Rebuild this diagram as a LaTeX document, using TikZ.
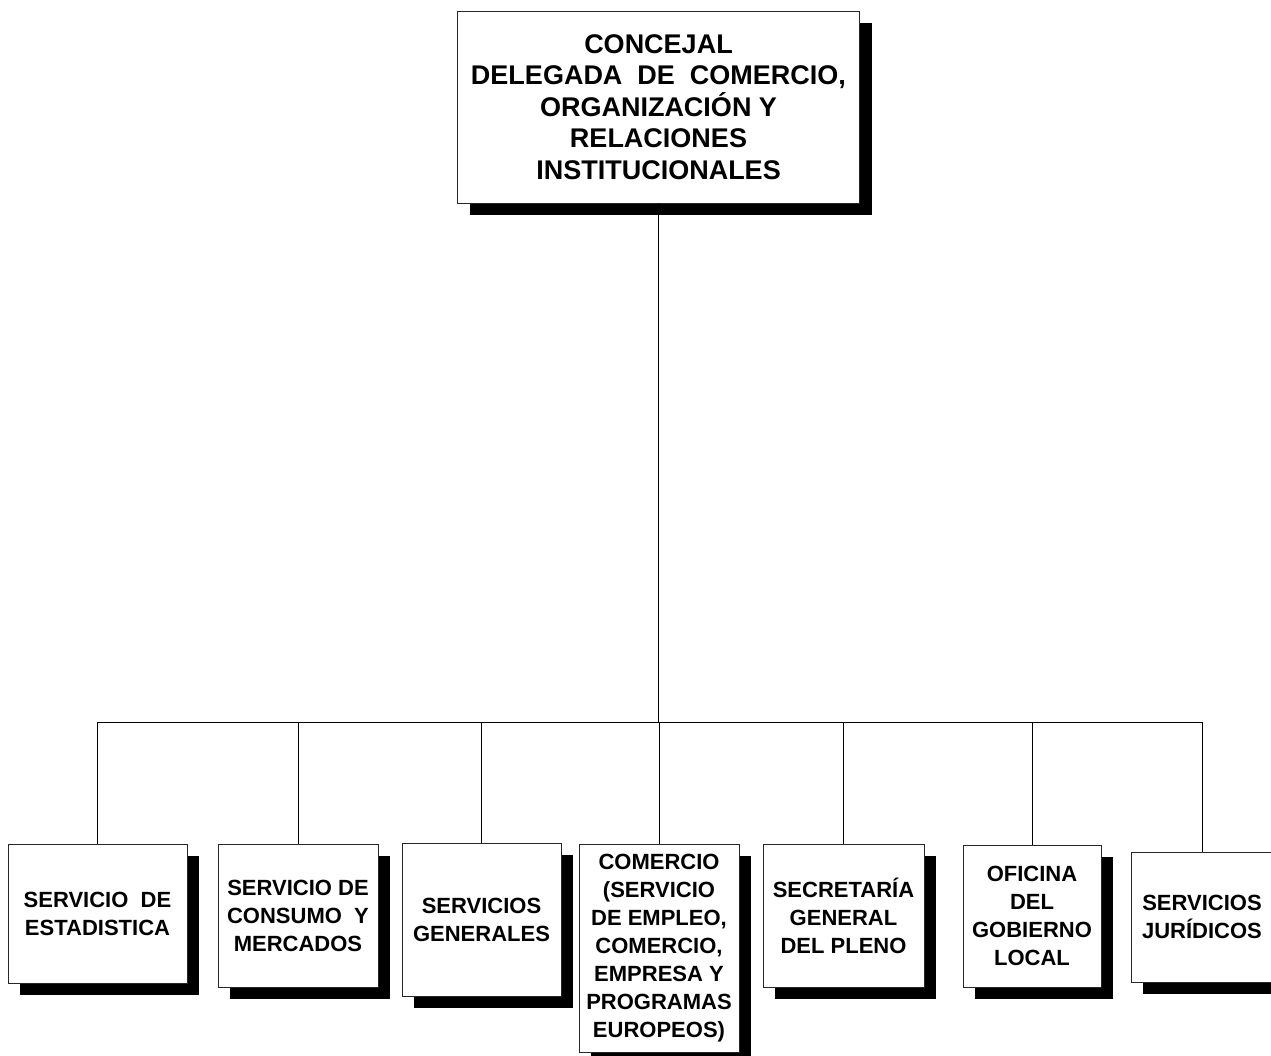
\documentclass[tikz,border=0pt]{standalone}
\usepackage{fontspec}
\setmainfont{Liberation Sans}
\usetikzlibrary{shadows}

\begin{document}
\begin{tikzpicture}[x=1pt,y=-1pt]
	\tikzstyle{caja}=[draw=black!85,line width=0.8pt,fill=white,inner sep=0pt,align=center,
		font=\bfseries\fontsize{22}{28}\selectfont,
		drop shadow={shadow xshift=12pt,shadow yshift=-12pt,fill=black,opacity=1}]
	\tikzstyle{linea}=[line width=0.9pt]
	\useasboundingbox (0,0) rectangle (1271,1055);

	\node[caja,minimum width=402pt,minimum height=192pt,font=\bfseries\fontsize{27}{31.5}\selectfont] (concejal) at (658.5,107)
		{CONCEJAL\\ DELEGADA~~DE~~COMERCIO,\\ ORGANIZACIÓN Y\\ RELACIONES\\ INSTITUCIONALES};

	\node[caja,minimum width=179pt,minimum height=139pt] (est) at (97.5,913.5) {SERVICIO~~DE\\ ESTADISTICA};
	\node[caja,minimum width=160pt,minimum height=143pt] (con) at (298,915.5) {SERVICIO DE\\ CONSUMO~~Y\\ MERCADOS};
	\node[caja,minimum width=159pt,minimum height=153pt] (gen) at (481.5,919.5) {SERVICIOS\\ GENERALES};
	\node[caja,minimum width=160pt,minimum height=208pt] (com) at (659,948)
		{COMERCIO\\ (SERVICIO\\ DE EMPLEO,\\ COMERCIO,\\ EMPRESA Y\\ PROGRAMAS\\ EUROPEOS)};
	\node[caja,minimum width=161pt,minimum height=143pt] (sec) at (843.5,915.5) {SECRETARÍA\\ GENERAL\\ DEL PLENO};
	\node[caja,minimum width=138pt,minimum height=142pt] (ofi) at (1032,916) {OFICINA\\ DEL\\ GOBIERNO\\ LOCAL};
	\node[caja,minimum width=142pt,minimum height=130pt] (jur) at (1202,917) {SERVICIOS\\ JURÍDICOS};

	% linea de dependencia
	\coordinate (bus) at (658,722);
	\draw[linea] (concejal.south) -- (concejal.south |- bus);
	\draw[linea] (est.north |- bus) -- (jur.north |- bus);
	\foreach \n in {est,con,gen,com,sec,ofi,jur}
		\draw[linea] (\n.north) -- (\n.north |- bus);
\end{tikzpicture}
\end{document}
